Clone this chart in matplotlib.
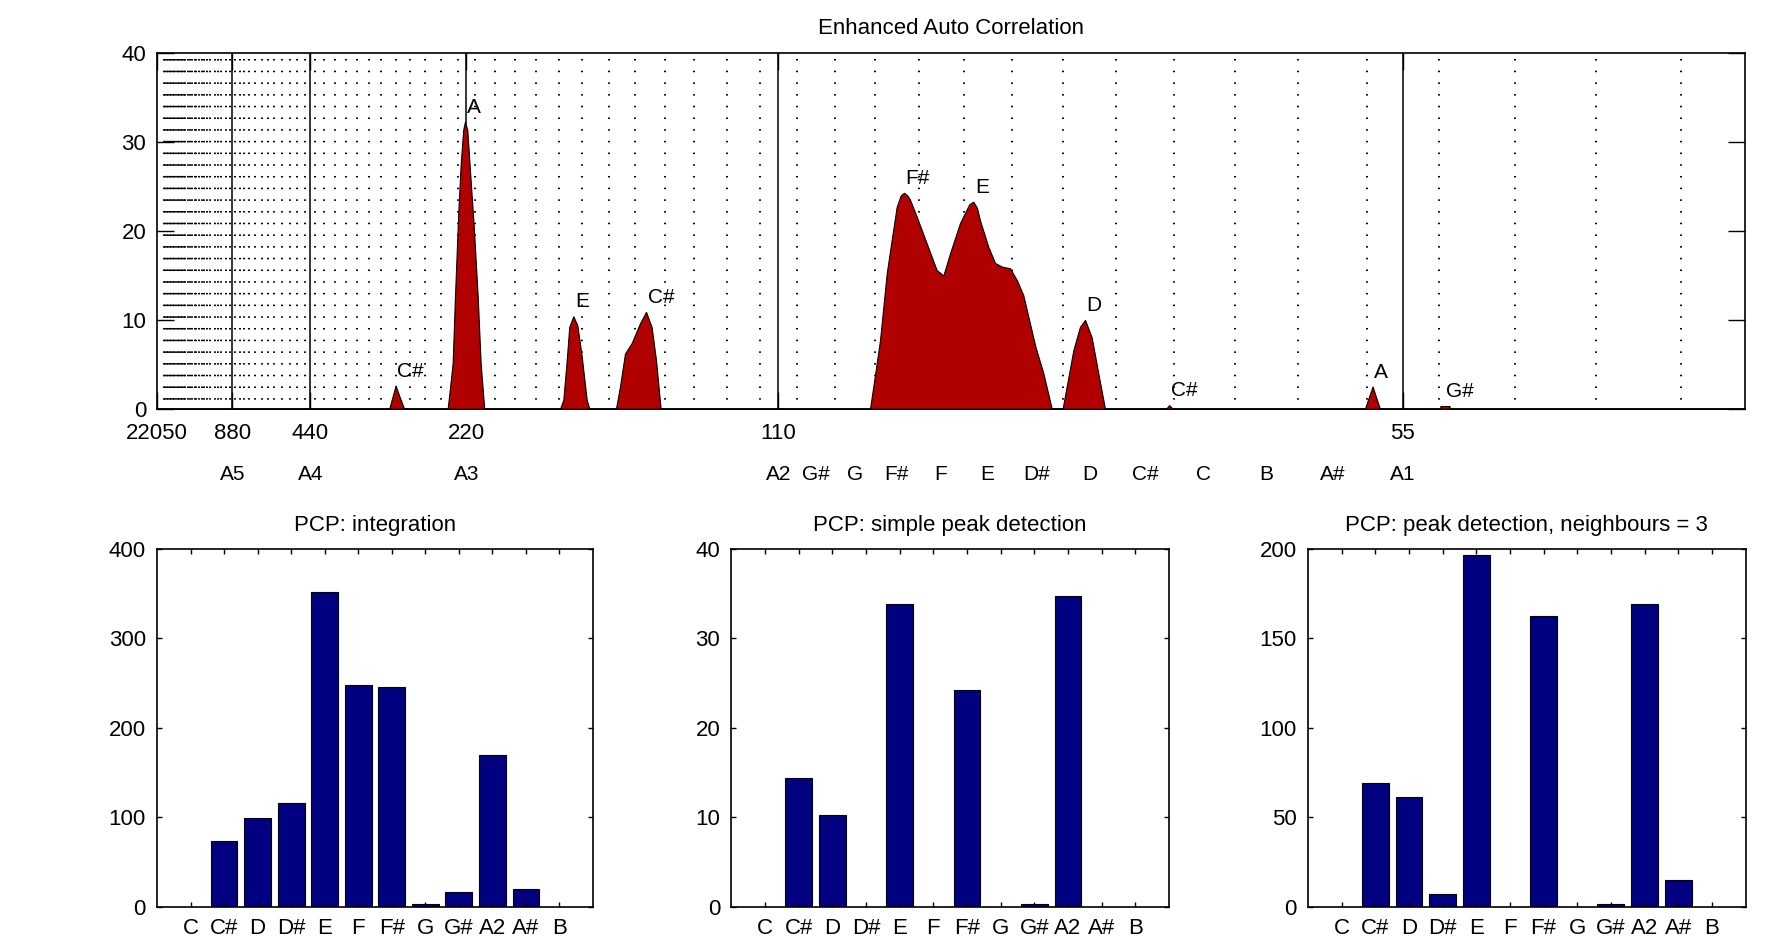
import numpy as np
import matplotlib.pyplot as plt

plt.rcParams['font.family'] = ['Liberation Sans', 'DejaVu Sans']
plt.rcParams['font.size'] = 16
plt.rcParams['lines.scale_dashes'] = False

fs = 44100

# enhanced autocorrelation outline (lag in samples, value)
acf_lag = [3, 151.0, 153.0, 155.1, 157.5, 160.5,
           188.5, 189.6, 191.7, 193.2, 195.3, 196.9, 198.5, 199.6, 201.1, 202.8,
           205.4, 207.8, 209.7, 211.4, 212.0,
           260.7, 262.8, 265.0, 266.6, 269.2, 271.8, 274.6, 277.8, 279.5,
           296.6, 299.2, 302.4, 306.7, 312.0, 315.9, 319.5, 322.3, 325.3,
           459.8, 463.0, 466.2, 470.5, 473.7, 476.9, 479.5, 481.6, 483.8, 485.5,
           489.8, 496.2, 502.6, 506.9, 511.2, 517.6, 523.5, 526.1, 528.5, 530.4,
           535.8, 540.1, 544.4, 549.7, 554.0, 558.2, 562.5, 566.0, 571.1, 576.5,
           583.5, 590.4, 594.6, 597.9, 602.2, 606.4, 610.7,
           649.9, 652.0, 654.1,
           777.7, 780.0, 782.6, 785.0, 787.3,
           825.9, 826.2, 832.0, 832.3, 1022]
acf_val = [0, 0, 1.3, 2.6, 1.4, 0,
           0, 1.7, 5.1, 12.6, 22.0, 27.6, 31.4, 32.3, 31.4, 26.9,
           20.1, 12.6, 5.1, 1.3, 0,
           0, 1.0, 5.5, 9.2, 10.4, 9.4, 5.9, 1.0, 0,
           0, 2.5, 6.2, 7.4, 9.6, 10.9, 9.2, 5.5, 0,
           0, 3.8, 7.7, 15.2, 19.0, 22.7, 24.0, 24.3, 24.0, 23.5,
           21.6, 18.6, 15.6, 15.0, 17.5, 20.9, 23.0, 23.3, 22.6, 21.2,
           18.2, 16.4, 16.0, 15.8, 14.5, 12.8, 9.6, 7.0, 4.0, 0,
           0, 6.6, 9.2, 10.0, 8.0, 4.0, 0,
           0, 0.4, 0,
           0, 1.2, 2.5, 1.2, 0,
           0, 0.3, 0.3, 0, 0]

peak_lag = [155.1, 199.6, 269.2, 315.9, 481.6, 526.1, 597.9, 652.0, 782.6, 829.0]
peak_val = [2.6, 32.3, 10.4, 10.9, 24.3, 23.3, 10.0, 0.4, 2.5, 0.3]
peak_name = ['C#', 'A', 'E', 'C#', 'F#', 'E', 'D', 'C#', 'A', 'G#']

tick_freqs = [22050, 880, 440, 220, 110, 55]
octave_a = [880, 440, 220, 110, 55]
row_names = ['A5', 'A4', 'A3', 'A2', 'G#', 'G', 'F#', 'F', 'E', 'D#', 'D',
             'C#', 'C', 'B', 'A#', 'A1']
row_freqs = [880, 440, 220] + [110 * 2 ** (-k / 12) for k in range(13)]

pcp_names = ['C', 'C#', 'D', 'D#', 'E', 'F', 'F#', 'G', 'G#', 'A2', 'A#', 'B']
pcp_integration = [0, 73.8, 99.5, 115.6, 352.3, 247.9, 245.3, 3.0, 16.8, 169.6, 19.4, 0]
pcp_simple = [0, 14.4, 10.25, 0, 33.85, 0, 24.2, 0, 0.3, 34.7, 0, 0]
pcp_neigh3 = [0, 69.3, 61.5, 6.9, 196.6, 0, 162.7, 0, 1.5, 169.2, 14.9, 0]

W, H = 1775, 943
fig = plt.figure(figsize=(W / 100, H / 100), dpi=100)


def box(l, t, r, b):
    return [l / W, 1 - b / H, (r - l) / W, (b - t) / H]


# ---- top panel ----
ax = fig.add_axes(box(157.3, 53.3, 1745.3, 408.7))
ax.set_xlim(2, 1022)
ax.set_ylim(0, 40)

# semitone bin borders as dotted lines (rounded to whole lags)
edges = fs / (440 * 2 ** ((np.arange(-41, 49) + 0.5) / 12))
edges = np.unique(np.round(edges))
edges = edges[(edges > 3) & (edges < 1022)]
for e in edges:
    ax.plot([e, e], [39.32, 1.0], color='k', lw=1.4,
            linestyle=(0, (1.1, 7.32)), zorder=1)
for f in octave_a:
    ax.axvline(fs / f, color='k', lw=1.1, zorder=2)

ax.fill_between(acf_lag, acf_val, 0, facecolor='#b00000', edgecolor='k',
                lw=0.8, zorder=3)
for lg, v, n in zip(peak_lag, peak_val, peak_name):
    ax.text(lg + 1, v + 1.0, n, ha='left', va='baseline', fontsize=15, zorder=4)

ax.set_xticks([fs / f for f in tick_freqs])
ax.set_xticklabels([str(f) for f in tick_freqs])
ax.set_yticks([0, 10, 20, 30, 40])
ax.tick_params(direction='in', length=12, width=1, top=True, right=True, pad=8)
ax.tick_params(axis='x', pad=10)
for x, n in zip(row_freqs, row_names):
    ax.text(fs / x, -0.185, n, ha='center', va='center',
            transform=ax.get_xaxis_transform(), fontsize=15)
ax.set_title('Enhanced Auto Correlation', pad=14, fontsize=16)
for s in ax.spines.values():
    s.set_linewidth(1.2)

# ---- bottom panels ----
panels = [
    (box(157, 549, 593, 906.7), pcp_integration, 'PCP: integration', 400, 100),
    (box(731.3, 549, 1169, 906.7), pcp_simple, 'PCP: simple peak detection', 40, 10),
    (box(1308, 549, 1745.5, 906.7), pcp_neigh3, 'PCP: peak detection, neighbours = 3', 200, 50),
]
pos = np.arange(1, 13)
for rect, vals, title, ymax, step in panels:
    a = fig.add_axes(rect)
    a.bar(pos, vals, width=0.8, color='#000080', edgecolor='k', lw=0.8)
    a.set_xlim(0, 13)
    a.set_ylim(0, ymax)
    a.set_xticks(pos)
    a.set_xticklabels(pcp_names)
    a.set_yticks(np.arange(0, ymax + 1, step))
    a.tick_params(direction='in', length=3.5, width=1, top=True, right=True, pad=8)
    a.set_title(title, pad=13, fontsize=16)
    for s in a.spines.values():
        s.set_linewidth(1.2)

fig.savefig('out.png', dpi=100)
